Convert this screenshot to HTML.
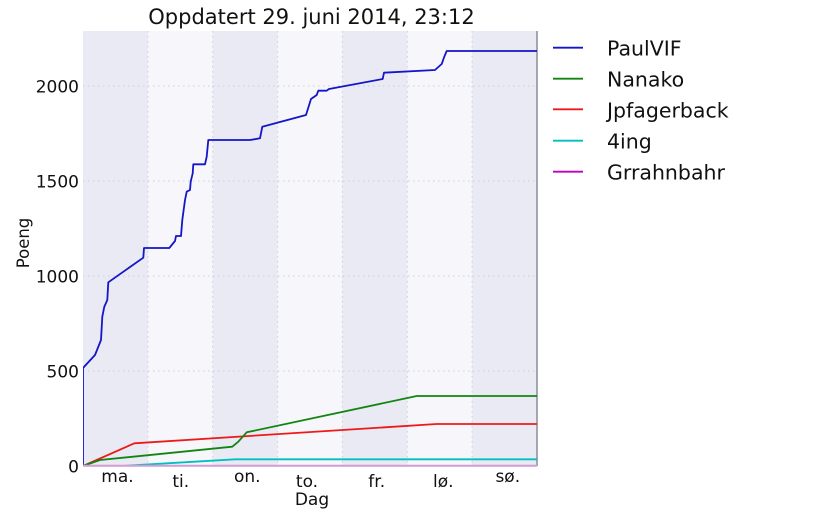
<!DOCTYPE html>
<html>
<head>
<meta charset="utf-8">
<style>
html,body{margin:0;padding:0;background:#ffffff;}
svg{display:block;}
text{font-family:"DejaVu Sans","Liberation Sans",sans-serif;fill:#111;}
</style>
</head>
<body>
<svg width="828" height="512" viewBox="0 0 828 512" xmlns="http://www.w3.org/2000/svg">
  <defs>
    <clipPath id="plot">
      <rect x="83" y="31" width="454" height="435.5"/>
    </clipPath>
  </defs>

  <!-- day bands -->
  <rect x="83" y="31" width="64.9" height="435" fill="#eaeaf4"/>
  <rect x="147.9" y="31" width="64.8" height="435" fill="#f6f6fb"/>
  <rect x="212.7" y="31" width="64.9" height="435" fill="#eaeaf4"/>
  <rect x="277.6" y="31" width="64.8" height="435" fill="#f6f6fb"/>
  <rect x="342.4" y="31" width="64.9" height="435" fill="#eaeaf4"/>
  <rect x="407.3" y="31" width="64.8" height="435" fill="#f6f6fb"/>
  <rect x="472.1" y="31" width="64.9" height="435" fill="#eaeaf4"/>

  <!-- grid -->
  <g stroke="#cfcfdb" stroke-width="1" stroke-dasharray="1.5,3.5" fill="none">
    <line x1="147.9" y1="31" x2="147.9" y2="466"/>
    <line x1="212.7" y1="31" x2="212.7" y2="466"/>
    <line x1="277.6" y1="31" x2="277.6" y2="466"/>
    <line x1="342.4" y1="31" x2="342.4" y2="466"/>
    <line x1="407.3" y1="31" x2="407.3" y2="466"/>
    <line x1="472.1" y1="31" x2="472.1" y2="466"/>
    <line x1="83" y1="371" x2="537" y2="371"/>
    <line x1="83" y1="276" x2="537" y2="276"/>
    <line x1="83" y1="181" x2="537" y2="181"/>
    <line x1="83" y1="86" x2="537" y2="86"/>
  </g>

  <!-- right spine -->
  <line x1="537" y1="31" x2="537" y2="466" stroke="#8c8c98" stroke-width="1.5"/>

  <!-- series -->
  <g clip-path="url(#plot)" fill="none" stroke-width="1.8" stroke-linejoin="round">
    <polyline stroke="#00bfbf" points="121.7,466 235,459.3 537,459.3"/>
    <polyline stroke="#ee1a1a" points="83,466 134.3,443.3 436.7,424 537,424"/>
    <polyline stroke="#118511" points="83,466 100,460 232.3,446.7 238.3,441.7 246.7,432.3 416.7,396 537,396"/>
    <polyline stroke="#1515c8" points="83,466 83,368 95,355 101,340 102.3,316.7 104.3,306.7 107.3,300 108.3,282.3 143.3,257.7 144,248 169.3,248 175,241 176,236 181,236 182.3,220 185,200 186.7,191.7 190,190 190.7,181.7 192.7,173.3 193.3,164.3 205,164.3 206.7,156.7 208.3,140 250,140 260,138.3 262.3,126.7 306,115 311,99 316.7,95 318.3,90.7 326.7,90.7 329,89 382.7,79 384,72.7 435,70 441.7,64 444.3,56.7 446.7,51 537,51"/>
  </g>
  <line x1="83" y1="465.8" x2="537" y2="465.8" stroke="#d49ad4" stroke-width="2"/>

  <!-- title -->
  <text x="311.5" y="24" font-size="21" text-anchor="middle">Oppdatert 29. juni 2014, 23:12</text>

  <!-- y tick labels -->
  <g font-size="17" text-anchor="end">
    <text x="79" y="472.5">0</text>
    <text x="79" y="377.5">500</text>
    <text x="79" y="282.5">1000</text>
    <text x="79" y="187.5">1500</text>
    <text x="79" y="92.5">2000</text>
  </g>

  <!-- x tick labels -->
  <g font-size="17" text-anchor="middle">
    <text x="117.5" y="482">ma.</text>
    <text x="180.8" y="487">ti.</text>
    <text x="247.3" y="482">on.</text>
    <text x="307" y="487">to.</text>
    <text x="376.7" y="487">fr.</text>
    <text x="443.3" y="487">lø.</text>
    <text x="507.8" y="482">sø.</text>
  </g>

  <!-- axis labels -->
  <text x="312" y="505" font-size="17" text-anchor="middle">Dag</text>
  <text x="0" y="0" font-size="16.5" text-anchor="middle" transform="translate(29,243) rotate(-90)">Poeng</text>

  <!-- legend -->
  <g stroke-width="1.8">
    <line x1="553" y1="47.7" x2="583" y2="47.7" stroke="#1515c8"/>
    <line x1="553" y1="78.7" x2="583" y2="78.7" stroke="#118511"/>
    <line x1="553" y1="109.3" x2="583" y2="109.3" stroke="#ee1a1a"/>
    <line x1="553" y1="140.7" x2="583" y2="140.7" stroke="#00bfbf"/>
    <line x1="553" y1="171.7" x2="583" y2="171.7" stroke="#bf00bf"/>
  </g>
  <g font-size="20.5">
    <text x="607" y="55.7">PaulVIF</text>
    <text x="607" y="86.7">Nanako</text>
    <text x="607" y="117.3">Jpfagerback</text>
    <text x="607" y="148.7">4ing</text>
    <text x="607" y="179.7">Grrahnbahr</text>
  </g>
</svg>
</body>
</html>
